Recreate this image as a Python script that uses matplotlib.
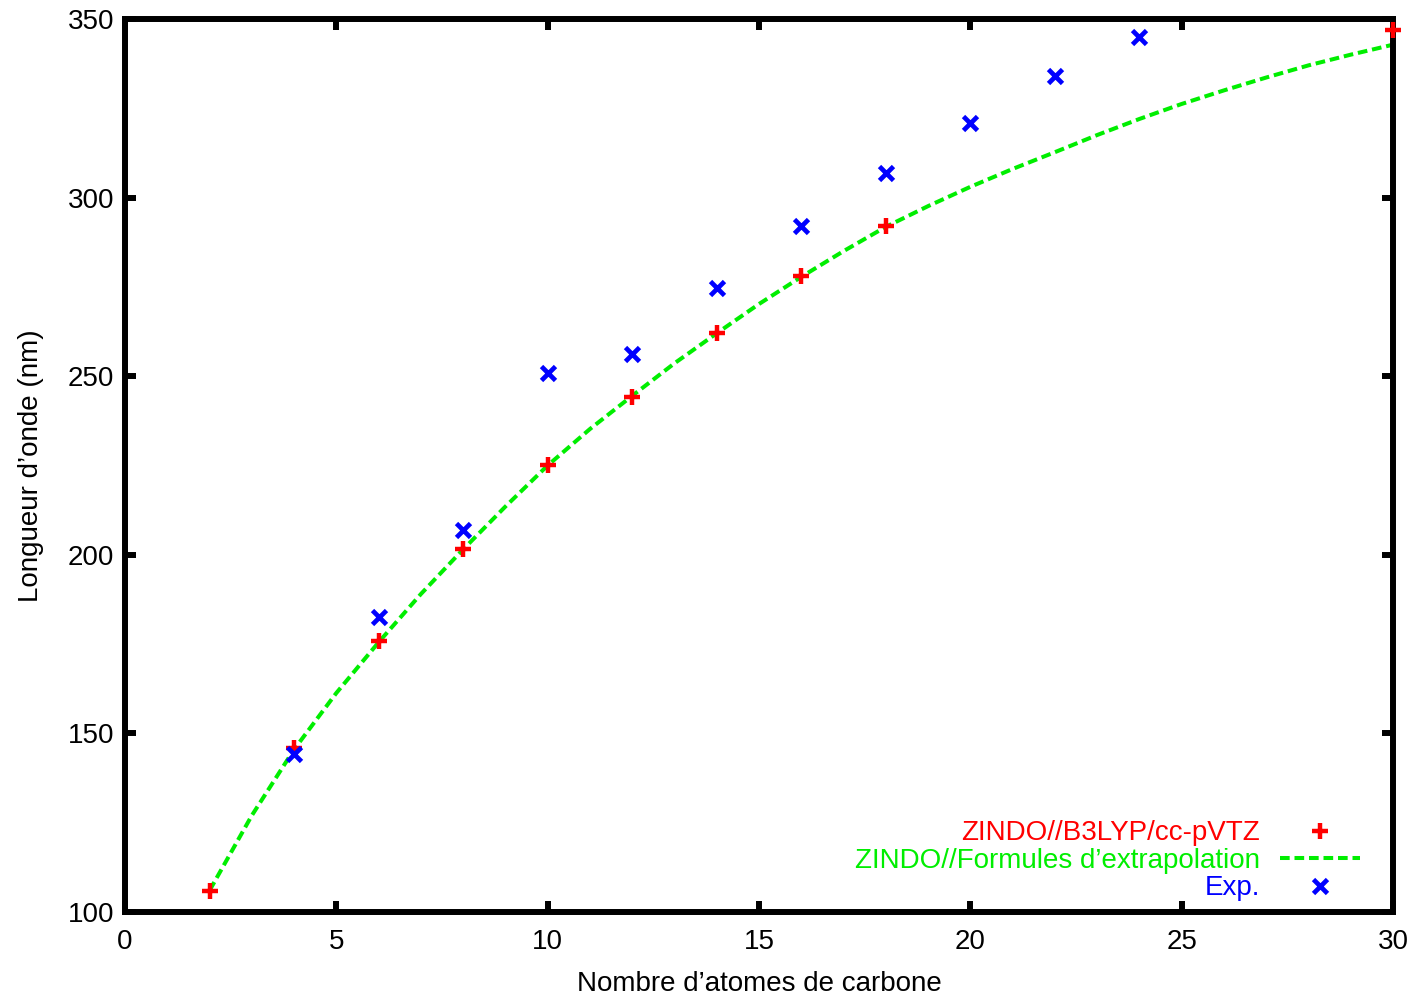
import matplotlib
matplotlib.use("Agg")
import matplotlib.pyplot as plt

plt.rcParams['font.family'] = ['Liberation Sans', 'DejaVu Sans']

# Données
carbones_calc = [2, 4, 6, 8, 10, 12, 14, 16, 18, 30]
lambda_calc = [106.0, 146.0, 175.8, 201.6, 225.2, 244.3, 262.2, 277.9, 291.9, 347.0]

carbones_exp = [4, 6, 8, 10, 12, 14, 16, 18, 20, 22, 24]
lambda_exp = [144.3, 182.7, 207.0, 251.0, 256.3, 274.6, 291.9, 307.0, 321.0, 333.9, 345.0]

# courbe d'extrapolation (lue point par point)
carbones_fit = [2, 3, 4, 5, 6, 7, 8, 9, 10, 11, 12, 13, 14, 15, 16,
                17, 18, 19, 20, 21, 22, 23, 24, 25, 26, 27, 28, 29, 30]
lambda_fit = [106.0, 127.0, 145.5, 161.3, 175.5, 189.0, 201.5, 213.5, 225.0,
              235.2, 244.5, 253.6, 262.0, 270.2, 277.8, 285.0, 291.8, 297.6,
              303.0, 308.0, 312.7, 317.5, 322.0, 326.2, 330.0, 333.6, 337.0,
              340.0, 342.8]

labels = ["ZINDO//B3LYP/cc-pVTZ", "ZINDO//Formules d\u2019extrapolation", "Exp."]
couleurs = ["#ff0000", "#00ee00", "#0000ff"]

fig = plt.figure(figsize=(14.19, 9.97), dpi=100)
ax = fig.add_axes([0.0881, 0.0853, 0.8936, 0.8957])

ax.plot(carbones_calc, lambda_calc, linestyle='none', marker='+', markersize=11,
        markeredgewidth=3.2, color=couleurs[0], label=labels[0], zorder=3,
        clip_on=False)
ax.plot(carbones_fit, lambda_fit, linestyle=(0, (2.4, 1.2)), linewidth=2.9,
        color=couleurs[1], label=labels[1], zorder=2)
ax.plot(carbones_exp, lambda_exp, linestyle='none', marker='x', markersize=10,
        markeredgewidth=3.4, color=couleurs[2], label=labels[2], zorder=4)

ax.set_xlim(0, 30)
ax.set_ylim(100, 350)
ax.set_xticks([0, 5, 10, 15, 20, 25, 30])
ax.set_yticks([100, 150, 200, 250, 300, 350])

for s in ax.spines.values():
    s.set_linewidth(4.3)
ax.tick_params(direction='in', length=8, width=4.3, labelsize=20,
               top=True, right=True)
ax.tick_params(axis='x', pad=12)
ax.tick_params(axis='y', pad=8)

ax.set_xlabel("Nombre d\u2019atomes de carbone", fontsize=20, labelpad=12)
ax.set_ylabel("Longueur d\u2019onde (nm)", fontsize=20, labelpad=17)

leg = ax.legend(loc='lower right', markerfirst=False, frameon=False, fontsize=20,
                handlelength=2.9, handletextpad=0.7, labelspacing=0.05,
                borderpad=0, borderaxespad=0, bbox_to_anchor=(0.974, 0.012))
for txt, c in zip(leg.get_texts(), couleurs):
    txt.set_color(c)

fig.savefig("out.png", dpi=100)
